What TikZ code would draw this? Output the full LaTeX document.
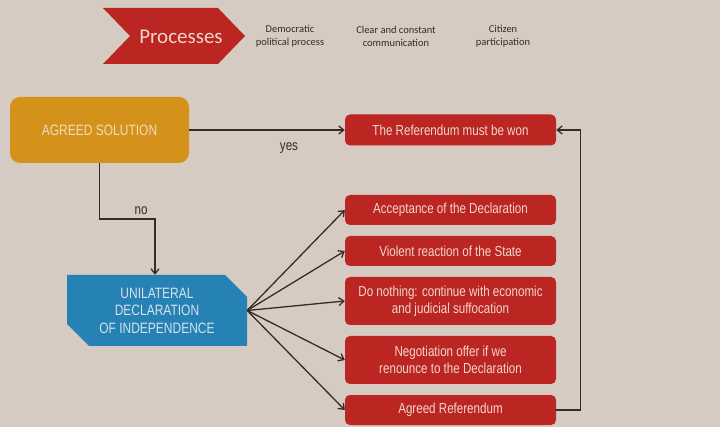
\documentclass[tikz,border=0pt]{standalone}
\usepackage{fontspec}
\setmainfont{Liberation Sans}
\newfontfamily\narrowsans[FakeStretch=0.8]{Liberation Sans}
\newfontfamily\headsans{Carlito}
\usepackage{tikz}
\usetikzlibrary{arrows.meta, positioning, shapes.misc}
\definecolor{bgbeige}{RGB}{214,203,194}
\definecolor{boxred}{RGB}{187,37,34}
\definecolor{boxorange}{RGB}{212,146,26}
\definecolor{boxblue}{RGB}{38,129,181}
\definecolor{linedark}{RGB}{51,44,40}
\definecolor{textpink}{RGB}{242,214,206}
\definecolor{textcream}{RGB}{240,220,190}
\definecolor{textpale}{RGB}{214,226,236}

\begin{document}
\begin{tikzpicture}[
          x=1pt, y=-1pt,
          outcome/.style={rectangle, rounded corners=5pt, fill=boxred, text=textpink,
            minimum width=211pt, inner sep=0pt, align=center,
            font=\narrowsans\fontsize{14.5}{17}\selectfont},
          decision/.style={rectangle, rounded corners=10pt, fill=boxorange, text=textcream,
            minimum width=179pt, minimum height=66pt,
            font=\narrowsans\fontsize{15}{18}\selectfont},
          udibox/.style={chamfered rectangle, chamfered rectangle corners={north east, south west},
            chamfered rectangle xsep=11pt, chamfered rectangle ysep=11pt,
            fill=boxblue, text=textpale, minimum width=180pt, minimum height=71pt,
            inner sep=0pt, align=center,
            font=\narrowsans\fontsize{15}{17.5}\selectfont},
          headtext/.style={align=center, text=linedark, inner sep=0pt,
            font=\headsans\fontsize{10.5}{13}\selectfont},
          lbl/.style={text=linedark, inner sep=0pt, font=\narrowsans\fontsize{14.5}{16}\selectfont},
          flow/.style={->, draw=linedark, line width=1.3pt},
          >={Straight Barb[length=5pt, width=8pt]}
        ]
        \fill[bgbeige] (0,0) rectangle (720,427);
        \useasboundingbox (0,0) rectangle (720,427);

        % header
        \fill[boxred] (103,8) -- (218,8) -- (245,36) -- (218,64) -- (103,64) -- (130,36) -- cycle;
        \node [text=textpink, inner sep=0pt, font=\headsans\fontsize{21}{24}\selectfont] (proc) at (181,37) {Processes};
        \node [headtext] (h1) at (290,36.5) {Democratic\\political process};
        \node [headtext] (h2) at (396,36.5) {Clear and constant\\communication};
        \node [headtext] (h3) at (503,36.5) {Citizen\\participation};

        % boxes
        \node [decision] (agreed) at (99.5,130) {AGREED SOLUTION};
        \node [udibox] (udi) at (157,310.5) {UNILATERAL\\DECLARATION\\OF INDEPENDENCE};

        \node [outcome, minimum height=31pt] (won) at (450.5,130) {The Referendum must be won};
        \node [outcome, minimum height=30pt] (accept) at (450.5,210) {Acceptance of the Declaration};
        \node [outcome, minimum height=30pt] (violent) at (450.5,251) {Violent reaction of the State};
        \node [outcome, minimum height=48pt] (nothing) at (450.5,301) {Do nothing: continue with economic\\and judicial suffocation};
        \node [outcome, minimum height=48pt] (negot) at (450.5,360) {Negotiation offer if we\\renounce to the Declaration};
        \node [outcome, minimum height=30pt] (agreedref) at (450.5,410) {Agreed Referendum};

        % connectors
        \draw [flow] (agreed.east) -- (won.west);
        \node [lbl] (yeslbl) at (289,148) {yes};

        \coordinate (nobend) at (155,219);
        \draw [flow] (agreed.south) |- (nobend) -- (nobend |- udi.north);
        \node [lbl] (nolbl) at (141,211) {no};

        \foreach \target in {accept, violent, nothing, negot, agreedref}
          \draw [flow] (udi.east) -- (\target.west);

        \draw [flow] (agreedref.east) -- ++(24,0) |- (won.east);
        \end{tikzpicture}
\end{document}
